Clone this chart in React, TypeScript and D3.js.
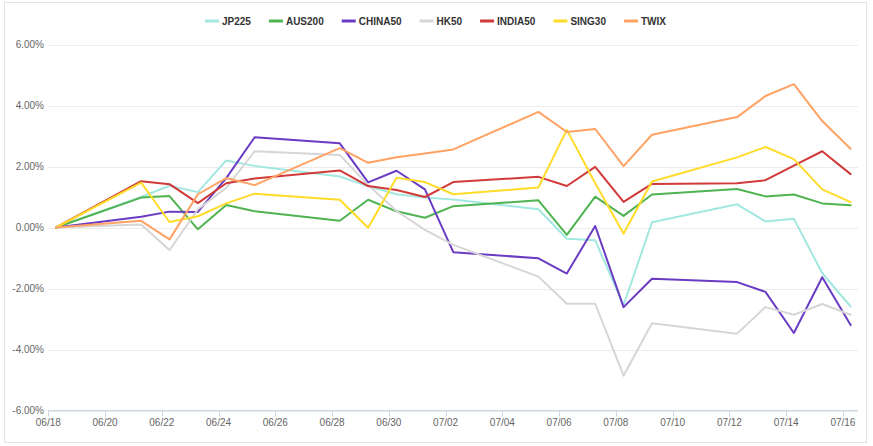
import React from "react";
import * as d3 from "d3";

const dates = [
  "2021-06-18", "2021-06-21", "2021-06-22", "2021-06-23", "2021-06-24", "2021-06-25",
  "2021-06-28", "2021-06-29", "2021-06-30", "2021-07-01", "2021-07-02", "2021-07-05",
  "2021-07-06", "2021-07-07", "2021-07-08", "2021-07-09", "2021-07-12", "2021-07-13",
  "2021-07-14", "2021-07-15", "2021-07-16",
];

const JP225 = [0, 1.0, 1.37, 1.16, 2.2, 2.02, 1.67, 1.35, 1.09, 0.98, 0.92, 0.6, -0.37, -0.42, -2.55, 0.17, 0.76, 0.2, 0.29, -1.5, -2.59];
const AUS200 = [0, 0.98, 1.03, -0.06, 0.74, 0.53, 0.22, 0.91, 0.53, 0.32, 0.7, 0.89, -0.24, 1.01, 0.38, 1.08, 1.26, 1.02, 1.08, 0.79, 0.73];
const CHINA50 = [0, 0.35, 0.52, 0.51, 1.62, 2.96, 2.76, 1.48, 1.86, 1.25, -0.81, -1.01, -1.51, 0.05, -2.61, -1.68, -1.79, -2.11, -3.46, -1.63, -3.2];
const HK50 = [0, 0.1, -0.74, 0.6, 1.3, 2.5, 2.38, 1.39, 0.54, -0.08, -0.57, -1.61, -2.5, -2.5, -4.86, -3.14, -3.48, -2.61, -2.86, -2.51, -2.86];
const INDIA50 = [0, 1.52, 1.42, 0.8, 1.45, 1.61, 1.87, 1.36, 1.23, 1.0, 1.49, 1.66, 1.36, 1.99, 0.84, 1.43, 1.45, 1.55, 2.03, 2.5, 1.75];
const SING30 = [0, 1.47, 0.18, 0.37, 0.79, 1.11, 0.91, -0.01, 1.63, 1.49, 1.09, 1.31, 3.2, 1.45, -0.2, 1.51, 2.3, 2.64, 2.24, 1.25, 0.83];
const TWIX = [0, 0.22, -0.39, 1.09, 1.62, 1.39, 2.6, 2.12, 2.3, 2.43, 2.56, 3.79, 3.13, 3.23, 2.01, 3.04, 3.62, 4.31, 4.7, 3.49, 2.58];

const seriesNames = ["JP225", "AUS200", "CHINA50", "HK50", "INDIA50", "SING30", "TWIX"];
const seriesValues = [JP225, AUS200, CHINA50, HK50, INDIA50, SING30, TWIX];
const colors = ["#a3e8e0", "#4fb352", "#6a3cc4", "#d6d6d6", "#d13a3a", "#ffdb2a", "#ffa263"];

const yTicks = [-6, -4, -2, 0, 2, 4, 6];
const xTickStart = "2021-06-18";
const xTickEnd = "2021-07-16";

const W = 873;
const H = 446;

const parseDay = (s: string) => {
  const [y, m, d] = s.split("-").map(Number);
  return new Date(Date.UTC(y, m - 1, d));
};
const pointTime = (s: string) => {
  const [y, m, d] = s.split("-").map(Number);
  return new Date(Date.UTC(y, m - 1, d, 6, 30));
};

export default function App() {
  const x = d3
    .scaleUtc()
    .domain([parseDay(xTickStart), new Date(Date.UTC(2021, 6, 16, 12, 45))])
    .range([48.3, 858]);
  const y = d3.scaleLinear().domain([-6, 6]).range([410.5, 44.5]);

  const xTicks = d3.utcDay
    .range(parseDay(xTickStart), d3.utcDay.offset(parseDay(xTickEnd), 1))
    .filter((_, i) => i % 2 === 0);
  const fmtX = d3.utcFormat("%m/%d");

  const line = d3
    .line<[Date, number]>()
    .x((d) => x(d[0]))
    .y((d) => y(d[1]));

  const font = "'Liberation Sans', Arial, sans-serif";

  // legend layout
  const canvas = typeof document !== "undefined" ? document.createElement("canvas") : null;
  const ctx = canvas ? canvas.getContext("2d") : null;
  if (ctx) ctx.font = `bold 10px ${font}`;
  const iconW = 14;
  const iconGap = 3;
  const itemGap = 18;
  const widths = seriesNames.map((n) => (ctx ? ctx.measureText(n).width : n.length * 6.5));
  const totalW =
    widths.reduce((a, b) => a + b, 0) + seriesNames.length * (iconW + iconGap) + (seriesNames.length - 1) * itemGap;
  let cursor = W / 2 - totalW / 2 - 1;
  const legendItems = seriesNames.map((n, i) => {
    const start = cursor;
    cursor += iconW + iconGap + widths[i] + itemGap;
    return { name: n, x: start, color: colors[i] };
  });

  return (
    <svg
      width={W}
      height={H}
      style={{ position: "absolute", left: 0, top: 0, background: "#fff" }}
      fontFamily={font}
    >
      <rect x={4.5} y={2.5} width={862} height={440} fill="#fff" stroke="#dde4ea" strokeWidth={1} />

      {/* grid */}
      {yTicks.map((t) => (
        <line key={"g" + t} x1={48.3} x2={858} y1={Math.round(y(t)) + 0.5} y2={Math.round(y(t)) + 0.5} stroke="#ececec" strokeWidth={1} />
      ))}

      {/* y labels */}
      {yTicks.map((t) => (
        <text key={"yl" + t} x={44} y={y(t) + 3.5} textAnchor="end" fontSize={10} fill="#666">
          {t.toFixed(2) + "%"}
        </text>
      ))}

      {/* x axis */}
      <line x1={48.3} x2={858} y1={410.5} y2={410.5} stroke="#ccd6eb" strokeWidth={1} />
      {xTicks.map((t) => (
        <g key={"xt" + t.getTime()}>
          <line x1={Math.round(x(t)) + 0.5} x2={Math.round(x(t)) + 0.5} y1={410.5} y2={416.5} stroke="#ccd6eb" strokeWidth={1} />
          <text x={x(t)} y={425.5} textAnchor="middle" fontSize={10} fill="#666">
            {fmtX(t)}
          </text>
        </g>
      ))}

      {/* lines */}
      {seriesValues.map((vals, i) => (
        <path
          key={"s" + i}
          d={line(vals.map((v, j) => [pointTime(dates[j]), v] as [Date, number])) || ""}
          fill="none"
          stroke={colors[i]}
          strokeWidth={2}
          strokeLinejoin="round"
          strokeLinecap="round"
        />
      ))}

      {/* legend */}
      {legendItems.map((it) => (
        <g key={"lg" + it.name}>
          <line x1={it.x} x2={it.x + iconW} y1={21} y2={21} stroke={it.color} strokeWidth={3} />
          <text x={it.x + iconW + iconGap} y={24.5} fontSize={10} fontWeight="bold" fill="#333">
            {it.name}
          </text>
        </g>
      ))}
    </svg>
  );
}
